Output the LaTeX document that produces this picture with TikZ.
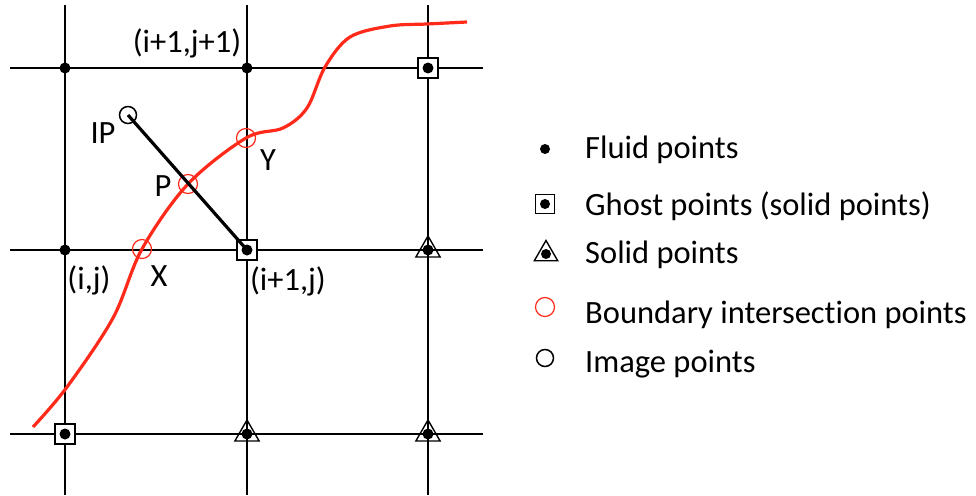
\documentclass[tikz,border=0pt]{standalone}
\usepackage{fontspec}
\setmainfont{Carlito}[Ligatures={TeX,CommonOff}]
\usepackage{xcolor}
\usepackage{tikz}
\usetikzlibrary{shapes.geometric}
\definecolor{ink}{HTML}{000000}
\definecolor{bndred}{HTML}{FF2A1A}

\tikzset{
  gridline/.style={ink, line width=2.4pt},
  fluidpt/.style={circle, fill=ink, inner sep=0pt, minimum size=11pt},
  ghostpt/.style={draw=ink, line width=1.4pt, inner sep=0pt, minimum size=20pt},
  solidpt/.style={regular polygon, regular polygon sides=3, draw=ink,
    line width=1.4pt, inner sep=0pt, minimum size=28pt},
  bndpt/.style={circle, draw=bndred, line width=1.2pt, inner sep=0pt, minimum size=19pt},
  imgpt/.style={circle, draw=ink, line width=1.5pt, inner sep=0pt, minimum size=17pt},
  lbl/.style={text=ink, inner sep=0pt, font=\fontsize{32.5}{38}\selectfont},
}

\begin{document}
\begin{tikzpicture}[x=1pt, y=-1pt]
  \useasboundingbox (0,0) rectangle (976,495);
  % grid
  \foreach \gx in {65, 247, 428}
    \draw[gridline] (\gx,5) -- (\gx,495);
  \foreach \gy in {68, 250, 434}
    \draw[gridline] (10,\gy) -- (483,\gy);
  % boundary intersection and image points
  \node[bndpt] (X) at (142,249) {};
  \node[bndpt] (P) at (188,184) {};
  \node[bndpt] (Y) at (246,138) {};
  \node[imgpt] (IP) at (128,115) {};
  % immersed boundary
  \draw[bndred, line width=3.2pt] plot[smooth, tension=0.55] coordinates {%
    (33,427) (67,387) (113,318) (X) (P) (Y) (283,128) (307,108)
    (325,67) (350,37) (390,26) (427,24) (467,22)};
  % ghost points
  \foreach \n/\x/\y in {a/428/68, b/247/250, c/65/434} {
    \node[ghostpt, fill=white] (g-\n) at (\x,\y) {};
    \node[fluidpt] (gd-\n) at (g-\n) {};
  }
  % IP -- ghost point
  \draw[ink, line width=3.2pt] (IP.center) -- (gd-b.center);
  % fluid points
  \foreach \n/\x/\y in {a/65/68, b/247/68, c/65/250}
    \node[fluidpt] (f-\n) at (\x,\y) {};
  % solid points
  \foreach \n/\x/\y in {a/428/250, b/247/434, c/428/434} {
    \node[solidpt] (s-\n) at (\x,\y) {};
    \node[fluidpt] (sd-\n) at (s-\n.center) {};
  }
  % labels
  \node[lbl] (lab-ij1) at (187,43) {(i+1,j+1)};
  \node[lbl] (lab-ij) at (89,280) {(i,j)};
  \node[lbl] (lab-i1j) at (288,281) {(i+1,j)};
  \node[lbl] (lab-IP) at (103,133) {IP};
  \node[lbl] (lab-P) at (163,186) {P};
  \node[lbl] (lab-Y) at (268,160) {Y};
  \node[lbl] (lab-X) at (159,276) {X};
  % legend
  \node[fluidpt, minimum size=10pt] (lg-fluid) at (545,149) {};
  \node[ghostpt, minimum size=19pt] (lg-ghost) at (545,204) {};
  \node[fluidpt, minimum size=10pt] (lg-ghostdot) at (lg-ghost) {};
  \node[solidpt, minimum size=27pt] (lg-solid) at (546,254) {};
  \node[fluidpt, minimum size=10pt] (lg-soliddot) at (lg-solid.center) {};
  \node[bndpt] (lg-bnd) at (545,307) {};
  \node[imgpt] (lg-img) at (545,358) {};
  \foreach \name/\y/\txt in {fluid/158/Fluid points,
      ghost/215/Ghost points (solid points),
      solid/263/Solid points,
      bnd/323/Boundary intersection points,
      img/372/Image points}
    \node[lbl, anchor=base west] (lt-\name) at (585,\y) {\txt};
\end{tikzpicture}
\end{document}
